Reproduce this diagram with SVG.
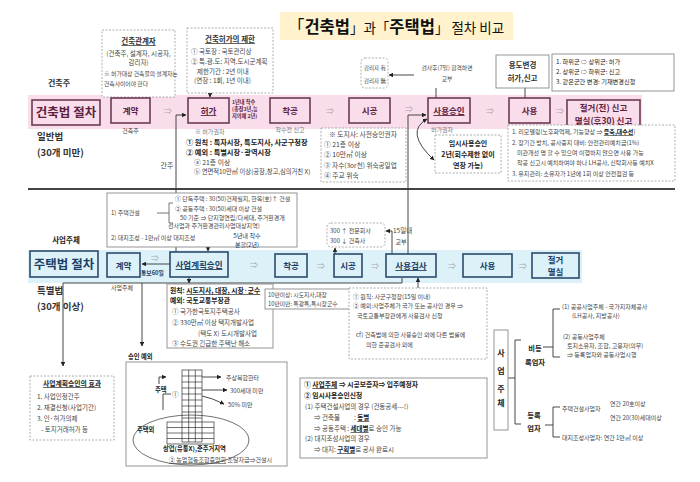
<svg xmlns="http://www.w3.org/2000/svg" width="700" height="482" viewBox="0 0 700 482">
<defs>
<marker id="ah" viewBox="0 0 10 10" refX="9" refY="5" markerWidth="5" markerHeight="5" orient="auto-start-reverse"><path d="M0,0 L10,5 L0,10 z" fill="#222"/></marker>
</defs>
<style>
text{font-family:"Noto Sans CJK KR","Noto Sans",sans-serif;fill:#444;font-size:6.5px}
.b{font-weight:700}
.u{text-decoration:underline}
.c{text-anchor:middle}
.n1{font-size:9.5px;font-weight:700;fill:#5b2140;text-anchor:middle}
.n2{font-size:9.5px;font-weight:700;fill:#1c3d63;text-anchor:middle}
.r1{fill:none;stroke:#6b3b55;stroke-width:1.6}
.r2{fill:none;stroke:#2b4a6b;stroke-width:1.6}
.dash{fill:#fff;stroke:#9a9a9a;stroke-width:0.8;stroke-dasharray:2 1.5}
.sol{fill:#fff;stroke:#8a8a8a;stroke-width:0.9}
.arr{fill:#aaa;font-size:8px;text-anchor:middle}
.ln{fill:none;stroke:#333;stroke-width:0.9}
.lbl{font-size:9.5px;font-weight:700;fill:#333}
.dk{fill:#222}
</style>
<rect width="700" height="482" fill="#fff"/>

<!-- title -->
<g id="title">
<rect x="280" y="12" width="233" height="28" fill="#FFF2CC"/>
<text x="396" y="33" class="c" style="fill:#111;font-size:13.5px"><tspan style="font-size:16.5px">「</tspan><tspan class="b" style="font-size:16.5px">건축법</tspan>」과「<tspan class="b" style="font-size:16.5px">주택법</tspan>」 절차 비교</text>
</g>

<!-- bands -->
<rect x="28" y="95" width="614" height="34" fill="#FADDEB"/>
<rect x="28" y="250" width="554" height="33" fill="#DDF1F9"/>
<line x1="28" y1="189" x2="675" y2="189" stroke="#444" stroke-width="2"/>

<!-- connectors -->
<g id="connectors">
<path class="ln" d="M210,93 V97" marker-end="url(#ah)"/>
<path class="ln" d="M176,252 V115 H186" marker-end="url(#ah)"/>
<path class="ln" d="M408,254 V115 H426" marker-end="url(#ah)"/>
<path class="ln" d="M427,119 Q404,132 434,160" marker-start="url(#ah)" marker-end="url(#ah)"/>
<path class="ln" d="M436,98 V88 M414,75 H389" marker-end="url(#ah)"/>
<path class="ln" d="M525,98 V88"/>
<path class="ln" d="M208,243 V251" marker-end="url(#ah)"/>
<path class="ln" d="M170,264 H142" marker-end="url(#ah)"/>
<path class="ln" d="M335,254 V248" marker-end="url(#ah)"/>
<path class="ln" d="M392,254 V231 H386" marker-end="url(#ah)"/>
<path class="ln" d="M189,277 V283" marker-end="url(#ah)"/>
<path class="ln" d="M238,297 V302 H264" marker-end="url(#ah)"/>
<path class="ln" d="M418,288 V278" marker-end="url(#ah)"/>
<path class="ln" d="M402,278 V283 H63 V366" marker-end="url(#ah)"/>
<path class="ln" d="M142,283 V346" marker-end="url(#ah)"/>
<path class="ln" d="M508,378 H515 M521,340 H515 V424 H521"/>
<path class="ln" d="M543,347 H553 M560,309 H553 V357 H560"/>
<path class="ln" d="M545,425 H553 M560,407 H553 V437 H560"/>
</g>

<!-- top: 건축법 -->
<text x="59" y="86" class="c b" style="font-size:8px;fill:#333">건축주</text>

<g id="n-archrel">
<rect class="dash" x="102" y="30" width="73" height="67"/>
<text x="138.5" y="44" class="c b u" style="font-size:7.5px;fill:#333">건축관계자</text>
<text x="138.5" y="56" class="c">(건축주, 설계자, 시공자,</text>
<text x="138.5" y="65" class="c">감리자)</text>
<text x="104" y="76" style="font-size:5.8px">※ 허가대상 건축물의 설계자는</text>
<text x="104" y="86" style="font-size:5.8px">건축사이어야 한다</text>
</g>

<g id="n-limit">
<rect class="dash" x="187" y="28" width="86" height="65"/>
<text x="230" y="42" class="c b u" style="font-size:7.5px;fill:#333">건축허가의 제한</text>
<text x="191" y="54">① 국토장 : 국토관리상</text>
<text x="191" y="64">② 특.광.도: 지역.도시군계획</text>
<text x="197" y="74">제한기간 : 2년 이내</text>
<text x="194" y="83">(연장 : 1회, 1년 이내)</text>
</g>

<g id="n-supervisor">
<rect class="dash" x="361" y="58" width="27" height="30" rx="4"/>
<text x="364" y="70" style="font-size:5.5px">감리자 有</text>
<text x="364" y="83" style="font-size:5.5px">감리자 無</text>
</g>
<text x="447" y="70" class="c" style="font-size:5.8px">검사후(7일) 합격하면</text>
<text x="447" y="81" class="c" style="font-size:5.8px">교부</text>

<g id="n-usechange">
<rect class="sol" x="496" y="55" width="53" height="33"/>
<text x="522.5" y="68" class="c b" style="font-size:7.5px;fill:#333">용도변경</text>
<text x="522.5" y="81" class="c b" style="font-size:7.5px;fill:#333">허가,신고</text>
</g>
<g id="n-usechange-list">
<rect class="sol" x="552" y="54" width="122" height="37"/>
<text x="556" y="64" class="dk" style="font-size:6.2px">1. 하위군 ⇨ 상위군: 허가</text>
<text x="556" y="74" class="dk" style="font-size:6.2px">2. 상위군 ⇨ 하위군: 신고</text>
<text x="556" y="84" class="dk" style="font-size:6.2px">3. 같은군간 변경: 기재변경신청</text>
</g>

<g id="n-archlaw">
<rect class="r1" x="32" y="100" width="68" height="25" stroke-width="2"/>
<text x="66" y="117" class="n1" style="font-size:12.5px">건축법 절차</text>
</g>
<g id="n-contract1">
<rect class="r1" x="111" y="98" width="39" height="25"/>
<text x="130.5" y="114" class="n1" style="font-size:8.5px">계약</text>
</g>
<text x="168" y="114" class="arr">⇒</text>
<g id="n-permit">
<rect class="r1" x="188" y="98" width="41" height="25"/>
<text x="208.5" y="114" class="n1 u" style="font-size:8.5px">허가</text>
</g>
<text x="232" y="104" class="b" style="font-size:5.2px;fill:#5b2140">1년내 착수</text>
<text x="232" y="111" class="b" style="font-size:5.2px;fill:#5b2140">(총장3년,능</text>
<text x="232" y="118" class="b" style="font-size:5.2px;fill:#5b2140">지의체 2년)</text>
<g id="n-start1">
<rect class="r1" x="270" y="98" width="40" height="25"/>
<text x="290" y="114" class="n1" style="font-size:8.5px">착공</text>
</g>
<text x="330" y="114" class="arr">⇒</text>
<g id="n-build1">
<rect class="r1" x="349" y="98" width="41" height="25"/>
<text x="369.5" y="114" class="n1" style="font-size:8.5px">시공</text>
</g>
<text x="409" y="112" class="arr">⇒</text>
<g id="n-useapprove">
<rect class="r1" x="428" y="98" width="42" height="25"/>
<text x="449" y="114" class="n1 u" style="font-size:8.5px">사용승인</text>
</g>
<text x="490" y="114" class="arr">⇒</text>
<g id="n-use1">
<rect class="r1" x="509" y="98" width="41" height="25"/>
<text x="529.5" y="114" class="n1" style="font-size:8.5px">사용</text>
</g>
<text x="560" y="114" class="arr">⇒</text>
<g id="n-demol1">
<rect class="r1" x="567" y="100" width="73" height="28"/>
<text x="603.5" y="111" class="n1" style="font-size:8.5px">철거(전) 신고</text>
<text x="603.5" y="124" class="n1" style="font-size:8.5px">멸실(후30) 신고</text>
</g>

<text x="130.5" y="133" class="c" style="font-size:6px">건축주</text>
<text x="290" y="132" class="c" style="font-size:6px;fill:#777">착수전 신고</text>
<text x="442" y="132" class="c" style="font-size:6px;fill:#777">허가권자</text>
<text x="37" y="140" class="lbl">일반법</text>
<text x="37" y="156" class="lbl">(30개 미만)</text>
<text x="167" y="168" class="c" style="font-size:7px">간주</text>

<g id="n-permit-auth">
<text x="195" y="134" style="font-size:6px;fill:#777">※ 허가권자</text>
<text x="186" y="145" class="b dk" style="font-size:7.2px">① 원칙 : 특자시장, 특도지사, 사군구청장</text>
<text x="186" y="155" class="b dk" style="font-size:7.2px">② 예외 : 특별시장·광역시장</text>
<text x="194" y="165" style="font-size:6.8px">ⓐ 21층 이상</text>
<text x="194" y="174" style="font-size:6.3px">ⓑ 연면적10만㎡ 이상(공장,창고,심의거친 X)</text>
</g>

<g id="n-governor">
<rect class="dash" x="321" y="128" width="85" height="54"/>
<text x="329" y="137" style="font-size:6.8px">※ 도지사: 사전승인권자</text>
<text x="324" y="147" style="font-size:6.8px">① 21층 이상</text>
<text x="324" y="157" style="font-size:6.8px">② 10만㎡ 이상</text>
<text x="324" y="168" style="font-size:6.6px">③ 자수(3or천) 위숙공일업</text>
<text x="324" y="178" style="font-size:6.8px">④ 주교 위숙</text>
</g>

<g id="n-temp-use">
<rect class="dash" x="435" y="135" width="66" height="38"/>
<text x="468" y="146" class="c b dk" style="font-size:7px">임시사용승인</text>
<text x="468" y="157" class="c b dk" style="font-size:7px">2년(회수제한 없이</text>
<text x="468" y="168" class="c b dk" style="font-size:7px">연장 가능)</text>
</g>

<g id="n-use-notes">
<rect class="dash" x="508" y="125" width="167" height="56"/>
<text x="512" y="134" style="font-size:6px">1. 리모델링(노후화억제, 기능향상 ⇒ <tspan class="b u dk">증축,대수선</tspan>)</text>
<text x="512" y="145" style="font-size:6px">2. 장기간 방치, 공사중지 대비: 안전관리예치금(1%)</text>
<text x="517" y="155" style="font-size:6px">미관개선 명 할 수 있으며 이행하지 않으면 사용 가능</text>
<text x="517" y="165" style="font-size:6px">착공 신고시 예치하여야 하나 LH공사, 신탁회사등 예치X</text>
<text x="512" y="176" style="font-size:6px">3. 유지관리: 소유자가 1년에 1회 이상 안전점검 등</text>
</g>

<!-- bottom: 주택법 -->
<g id="n-housing-scope">
<rect class="sol" x="107" y="193" width="190" height="54"/>
<text x="111" y="215" style="font-size:6px">1) 주택건설</text>
<path class="ln" d="M157,213 H169 M173,203 H169 V223 H173" style="stroke:#666"/>
<text x="175" y="201" style="font-size:6px">① 단독주택 : 30(50)건제필지, 한옥(호)↑ 건설</text>
<text x="175" y="211" style="font-size:6px">② 공동주택 : 30(50)세대 이상 건설</text>
<text x="180" y="220" style="font-size:6px">50 기준 ⇒ 단지형연립/다세대, 주거환경개</text>
<text x="168" y="228" style="font-size:6px">선사업과 주거환경관리사업대상지역)</text>
<text x="111" y="240" style="font-size:6px">2) 대지조성  -     1만㎡ 이상 대지조성</text>
</g>
<text x="66" y="243" class="c b dk" style="font-size:7.5px">사업주체</text>

<g id="n-300">
<rect class="dash" x="327" y="223" width="58" height="24" rx="4"/>
<text x="330" y="233" style="font-size:6px">300 ↑ 전문회사</text>
<text x="330" y="243" style="font-size:6px">300 ↓ 건축사</text>
</g>
<text x="393" y="233" style="font-size:6.5px">15일내</text>
<text x="401" y="244" class="c" style="font-size:6px">교부</text>
<text x="247" y="238" class="c" style="font-size:6.2px;fill:#1c3d63">5년내 착수</text>
<text x="247" y="247" class="c" style="font-size:6px;fill:#1c3d63">분할(2년)</text>

<g id="n-houselaw">
<rect class="r2" x="30" y="251" width="68" height="26" stroke-width="2"/>
<text x="64" y="269" class="n2" style="font-size:12.5px">주택법 절차</text>
</g>
<g id="n-contract2">
<rect class="r2" x="107" y="253" width="33" height="24"/>
<text x="123.5" y="269" class="n2" style="font-size:8.5px">계약</text>
</g>
<text x="155" y="261" class="arr">⇒</text>
<text x="141" y="275" class="b" style="font-size:5.8px;fill:#1c3d63">통보60일</text>
<g id="n-plan">
<rect class="r2" x="170" y="252" width="58" height="25"/>
<text x="199" y="268" class="n2 u" style="font-size:8.5px">사업계획승인</text>
</g>
<text x="254" y="268" class="arr">⇒</text>
<g id="n-start2">
<rect class="r2" x="275" y="254" width="32" height="23"/>
<text x="291" y="269" class="n2" style="font-size:8.5px">착공</text>
</g>
<text x="321" y="269" class="arr">⇒</text>
<g id="n-build2">
<rect class="r2" x="334" y="254" width="28" height="23"/>
<text x="348" y="269" class="n2" style="font-size:8.5px">시공</text>
</g>
<text x="375" y="269" class="arr">⇒</text>
<g id="n-inspect">
<rect class="r2" x="386" y="254" width="50" height="23"/>
<text x="411" y="269" class="n2 u" style="font-size:8.5px">사용검사</text>
</g>
<text x="452" y="269" class="arr">⇒</text>
<g id="n-use2">
<rect class="r2" x="463" y="254" width="49" height="23"/>
<text x="487.5" y="269" class="n2" style="font-size:8.5px">사용</text>
</g>
<text x="523" y="269" class="arr">⇒</text>
<g id="n-demol2">
<rect class="r2" x="532" y="253" width="47" height="25"/>
<text x="555.5" y="263" class="n2" style="font-size:8.5px">철거</text>
<text x="555.5" y="275" class="n2" style="font-size:8.5px">멸실</text>
</g>

<text x="37" y="294" class="lbl">특별법</text>
<text x="37" y="310" class="lbl">(30개 이상)</text>
<text x="122" y="290" class="c" style="font-size:6px">사업주체</text>

<g id="n-principle">
<rect class="sol" x="167" y="284" width="106" height="64"/>
<text x="170" y="293" class="b dk" style="font-size:6.8px">원칙: <tspan class="u">시도지사, 대장, 시장·군수</tspan></text>
<text x="170" y="303" class="b dk" style="font-size:6.8px">예외: 국토교통부장관</text>
<text x="172" y="314" style="font-size:6.5px">① 국가한국토지주택공사</text>
<text x="172" y="325" style="font-size:6.5px">② 330만㎡ 이상 택지개발사업</text>
<text x="198" y="336" style="font-size:6.5px">(택도 X) 도시개발사업</text>
<text x="172" y="346" style="font-size:6.5px">③ 수도권 긴급한 주택난 해소</text>
</g>

<g id="n-100k">
<rect class="sol" x="265" y="289" width="87" height="20"/>
<text x="268" y="297" style="font-size:5.8px">10만이상: 시도지사,대장</text>
<text x="268" y="306" style="font-size:5.8px">10만미만: 특광특,특시장군수</text>
</g>

<g id="n-inspect-notes">
<rect class="dash" x="349" y="288" width="138" height="71"/>
<text x="353" y="299" style="font-size:6px">① 원칙: 사군구청장(15일 이내)</text>
<text x="353" y="308" style="font-size:6px">② 예외:사업주체가 국가 또는 공사인 경우   ⇒</text>
<text x="357" y="318" style="font-size:6px">국토교통부장관에게 사용검사 신청</text>
<text x="356" y="337" style="font-size:6px">cf) 건축법에 의한 사용승인 외에 다른 법률에</text>
<text x="366" y="347" style="font-size:6px">의한 준공검사 외에</text>
</g>

<g id="n-effect">
<rect class="dash" x="30" y="376" width="84" height="64"/>
<text x="72" y="386" class="c b u dk" style="font-size:6.8px">사업계획승인의 효과</text>
<text x="37" y="399" style="font-size:6.5px">1. 사업인정간주</text>
<text x="37" y="410" style="font-size:6.5px">2. 재결신청(사업기간)</text>
<text x="37" y="421" style="font-size:6.5px">3. 인·허가의제</text>
<text x="41" y="432" style="font-size:6.5px">- 토지거래허가 등</text>
</g>

<text x="128" y="359" class="b dk" style="font-size:6.3px">승인 예외</text>
<g id="n-exception">
<rect class="sol" x="126" y="362" width="161" height="104"/>
<g stroke="#333" stroke-width="0.7" fill="none">
<rect x="182" y="370" width="20" height="72"/>
<path d="M188.7,370 V442 M195.3,370 V442"/>
<path d="M182,376 H202 M182,382 H202 M182,388 H202 M182,394 H202 M182,400 H202 M182,406 H202 M182,412 H202 M182,418 H202"/>
<rect x="167" y="422" width="47" height="22"/>
<path d="M167,427.5 H214 M167,433 H214 M167,438.5 H214"/>
<ellipse cx="191" cy="440" rx="58" ry="25"/>
</g>
<path class="ln" d="M202,377 H221" marker-end="url(#ah)"/>
<path class="ln" d="M202,390 H227" marker-end="url(#ah)"/>
<path class="ln" d="M202,396 Q212,398 224,404" marker-end="url(#ah)"/>
<path class="ln" d="M159,384 V377 H166" marker-end="url(#ah)"/>
<path class="ln" d="M163,410 V394 H171"/>
<text x="226" y="380" style="font-size:6px">주상복합한타</text>
<text x="230" y="393" style="font-size:6px">300세대 미만</text>
<text x="228" y="407" style="font-size:6px">50% 미만</text>
<text x="155" y="392" class="b dk" style="font-size:6.3px">주택</text>
<text x="172" y="397" style="font-size:6.5px">①</text>
<text x="137" y="432" class="b dk" style="font-size:6.3px">주택외</text>
<text x="163" y="451" class="b dk" style="font-size:6.3px">상업(유통X),준주거지역</text>
<text x="169" y="462" style="font-size:6px"><tspan class="u">② 농업협동조합중앙회</tspan> 조달자금⇒건설시</text>
</g>

<g id="n-temp-apply">
<rect class="sol" x="300" y="378" width="187" height="80"/>
<text x="304" y="387" class="b dk" style="font-size:6.8px">① <tspan class="u">사업주체</tspan> ⇒ 시공보증자⇒ 입주예정자</text>
<text x="304" y="398" class="b dk" style="font-size:6.8px">② 임시사용승인신청</text>
<text x="305" y="409" style="font-size:6.5px">(1) 주택건설사업의 경우 (건동공세---!)</text>
<text x="314" y="420" style="font-size:6.5px">⇒ 건축물</text>
<text x="354" y="420" style="font-size:6.5px">: <tspan class="b u dk">동별</tspan></text>
<text x="314" y="431" style="font-size:6.5px">⇒ 공동주택 : <tspan class="b u dk">세대별</tspan>로 승인 가능</text>
<text x="305" y="441" style="font-size:6.5px">(2) 대지조성사업의 경우</text>
<text x="314" y="452" style="font-size:6.5px">⇒ 대지: <tspan class="b u dk">구획별</tspan>로 공사 완료시</text>
</g>

<g id="n-entity">
<rect class="sol" x="494" y="330" width="14" height="100"/>
<text x="501" y="356" class="c b dk" style="font-size:8px">사</text>
<text x="501" y="374" class="c b dk" style="font-size:8px">업</text>
<text x="501" y="392" class="c b dk" style="font-size:8px">주</text>
<text x="501" y="406" class="c b dk" style="font-size:8px">체</text>
</g>

<g id="n-nonreg">
<text x="535" y="351" class="c b dk" style="font-size:7.3px">비등</text>
<text x="535" y="365" class="c b dk" style="font-size:7.3px">록업자</text>
<text x="562" y="309" style="font-size:6px">(1) 공공사업주체 - 국가지자체공사</text>
<text x="572" y="318" style="font-size:6px">(LH공사, 지방공사)</text>
<text x="563" y="339" style="font-size:6px">(2) 공동사업주체</text>
<text x="567" y="348" style="font-size:6px">토지소유자, 조합, 고용자(의무)</text>
<text x="567" y="357" style="font-size:6px">⇒ 등록업자와 공동사업시행</text>
</g>

<g id="n-reg">
<text x="534" y="418" class="c b dk" style="font-size:7.3px">등록</text>
<text x="534" y="431" class="c b dk" style="font-size:7.3px">업자</text>
<text x="562" y="411" style="font-size:6px">주택건설사업자</text>
<text x="610" y="406" style="font-size:6px">연간 20호이상</text>
<text x="610" y="420" style="font-size:6px">연간 20(30)세대이상</text>
<text x="562" y="440" style="font-size:6px">대지조성사업자: 연간 1만㎡ 이상</text>
</g>
</svg>
